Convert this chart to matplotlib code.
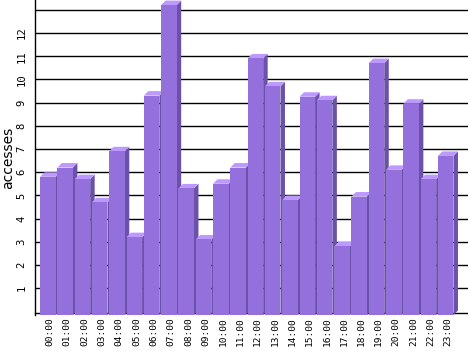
import matplotlib
matplotlib.use("Agg")
import matplotlib.pyplot as plt
from matplotlib.patches import Polygon, Rectangle

hours = ["00:00", "01:00", "02:00", "03:00", "04:00", "05:00", "06:00", "07:00",
         "08:00", "09:00", "10:00", "11:00", "12:00", "13:00", "14:00", "15:00",
         "16:00", "17:00", "18:00", "19:00", "20:00", "21:00", "22:00", "23:00"]
accesses = [5.8, 6.2, 5.7, 4.7, 6.9, 3.2, 9.3, 13.2, 5.3, 3.1, 5.5, 6.2,
            10.9, 9.7, 4.8, 9.25, 9.1, 2.8, 4.95, 10.7, 6.1, 8.95, 5.7, 6.7]
yticks = list(range(1, 13))
gridlines = list(range(1, 14))

FRONT = "#9370DB"
SIDE = "#6A52A8"
TOP = "#BC98FF"

W, H = 468, 351
fig = plt.figure(figsize=(W / 100, H / 100), dpi=100)
ax_left, ax_bottom_px = 35, 315
ax = fig.add_axes([ax_left / W, (H - ax_bottom_px) / H, 1 - ax_left / W, ax_bottom_px / H])

ymin, ymax = -0.155, 13.42
ax.set_xlim(-0.74, 24.29)
ax.set_ylim(ymin, ymax)

for g in gridlines:
    ax.axhline(g, color="black", linewidth=1.0, zorder=1)

half = 0.45
dx = 0.26
dy = 0.194
for i, v in enumerate(accesses):
    x0, x1 = i - half, i + half
    z = 2 + i * 0.01
    side = Polygon([(x1, ymin), (x1 + dx, ymin + dy), (x1 + dx, v + dy), (x1, v)],
                   closed=True, facecolor=SIDE, edgecolor="none", zorder=z, clip_on=False)
    top = Polygon([(x0, v), (x0 + dx, v + dy), (x1 + dx, v + dy), (x1, v)],
                  closed=True, facecolor=TOP, edgecolor="none", zorder=z, clip_on=False)
    front = Rectangle((x0, ymin), x1 - x0, v - ymin, facecolor=FRONT,
                      edgecolor="none", zorder=z, clip_on=False)
    ax.add_patch(side)
    ax.add_patch(top)
    ax.add_patch(front)

ax.set_yticks(yticks)
ax.set_yticklabels([str(t) for t in yticks])
ax.set_xticks([i + 0.13 for i in range(len(hours))])
ax.set_xticklabels(hours)

ax.tick_params(axis="y", length=0, pad=6, labelsize=7.6, labelrotation=90,
               labelfontfamily="DejaVu Sans Mono")
ax.tick_params(axis="x", length=0, pad=3, labelsize=6.8, labelrotation=90,
               labelfontfamily="DejaVu Sans Mono")
for lab in ax.get_yticklabels():
    lab.set_va("center")

for s in ["top", "right"]:
    ax.spines[s].set_visible(False)
ax.spines["left"].set_linewidth(1.0)
ax.spines["left"].set_zorder(1)
ax.spines["bottom"].set_position(("data", -0.07))
ax.spines["bottom"].set_linewidth(1.0)
ax.spines["bottom"].set_zorder(1)

ax.set_ylabel("accesses", fontsize=10, va="center")
ax.yaxis.set_label_coords(-(ax_left - 8) / (W - ax_left), 0.5)

fig.savefig("out.png", dpi=100)
